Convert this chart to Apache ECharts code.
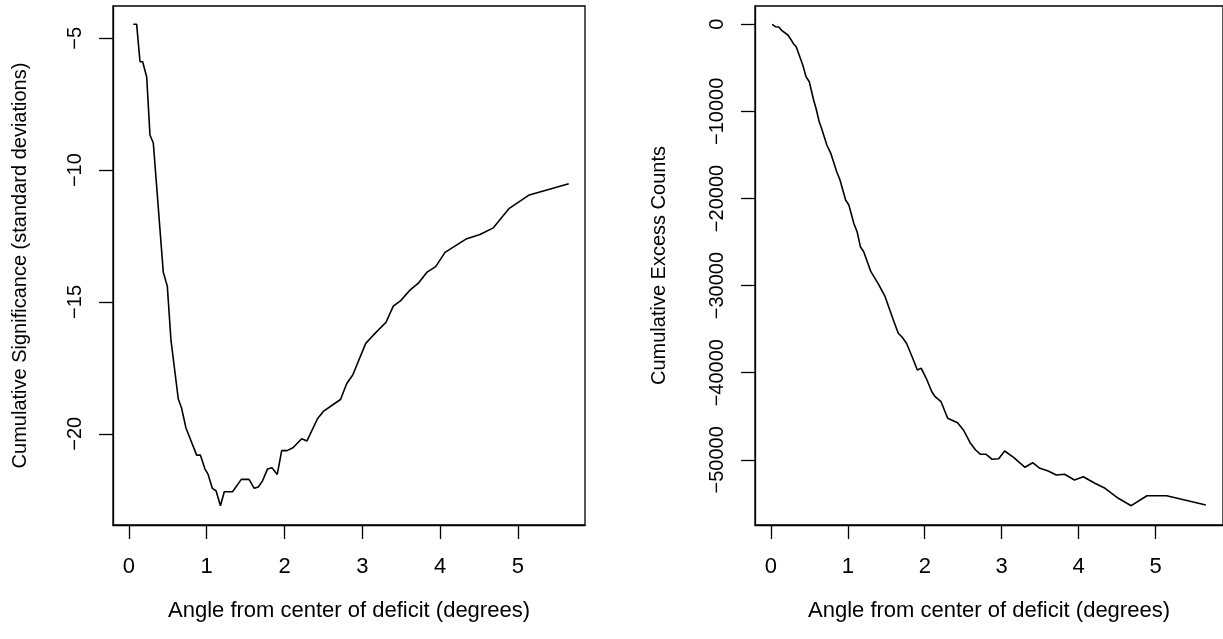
<!DOCTYPE html>
<html>
<head>
<meta charset="utf-8">
<script src="https://cdn.jsdelivr.net/npm/echarts@6/dist/echarts.min.js"></script>
<style>html,body{margin:0;padding:0;background:#fff}#c{width:1223px;height:639px}</style>
</head>
<body>
<div id="c"></div>
<script>
// Left panel: cumulative significance vs angle
const sigAngle = [0.057,0.100,0.143,0.177,0.229,0.271,0.314,0.442,0.494,0.541,0.635,0.676,0.734,0.871,0.920,0.978,1.017,1.072,1.120,1.177,1.226,1.332,1.445,1.544,1.611,1.663,1.717,1.781,1.839,1.907,1.964,2.032,2.109,2.221,2.289,2.424,2.504,2.630,2.720,2.800,2.877,3.044,3.141,3.305,3.398,3.494,3.613,3.720,3.828,3.943,4.063,4.342,4.513,4.684,4.889,5.146,5.653];
const sigValue = [-4.47,-4.47,-5.89,-5.89,-6.47,-8.67,-8.97,-13.87,-14.40,-16.45,-18.68,-19.01,-19.78,-20.81,-20.81,-21.34,-21.53,-22.07,-22.16,-22.73,-22.20,-22.20,-21.73,-21.73,-22.07,-22.02,-21.79,-21.34,-21.29,-21.54,-20.64,-20.64,-20.53,-20.19,-20.27,-19.43,-19.14,-18.88,-18.70,-18.09,-17.77,-16.57,-16.26,-15.77,-15.16,-14.95,-14.55,-14.29,-13.88,-13.66,-13.12,-12.60,-12.44,-12.19,-11.45,-10.94,-10.52];
// Right panel: cumulative excess counts vs angle
const excAngle = [0.017,0.060,0.103,0.145,0.222,0.265,0.299,0.330,0.415,0.458,0.500,0.556,0.587,0.629,0.659,0.728,0.779,0.856,0.899,0.972,1.014,1.078,1.121,1.164,1.207,1.300,1.399,1.485,1.592,1.656,1.707,1.763,1.836,1.904,1.955,2.019,2.092,2.135,2.212,2.298,2.426,2.503,2.589,2.661,2.725,2.798,2.876,2.961,3.038,3.154,3.303,3.402,3.496,3.603,3.710,3.817,3.945,4.060,4.210,4.343,4.515,4.682,4.887,5.144,5.652];
const excValue = [0,-276,-310,-735,-1228,-1802,-2296,-2572,-4673,-6016,-6590,-8691,-9644,-11183,-11940,-13857,-14811,-16923,-17876,-20172,-20746,-22847,-23812,-25534,-26108,-28404,-29836,-31274,-33950,-35476,-35936,-36625,-38163,-39690,-39495,-40643,-42181,-42755,-43329,-45235,-45740,-46579,-48037,-48875,-49369,-49369,-49943,-49874,-48990,-49713,-50861,-50333,-50976,-51286,-51745,-51665,-52319,-51940,-52698,-53272,-54420,-55270,-54122,-54122,-55189];
const xTicks = [0,1,2,3,4,5];
const sigTicks = [-20,-15,-10,-5];
const excTicks = [-50000,-40000,-30000,-20000,-10000,0];
const xTitle = 'Angle from center of deficit (degrees)';
const sigTitle = 'Cumulative Significance (standard deviations)';
const excTitle = 'Cumulative Excess Counts';

const FONT = 'Liberation Sans, Arial, Helvetica, sans-serif';
const FSX = 22;   // horizontal text
const FSY = 20;   // rotated text
const minus = v => String(v).replace('-', '\u2212');
const zip = (a, b) => a.map((x, i) => [x, b[i]]);

function xAxisDef(gi, min, max) {
  return {
    type: 'value', gridIndex: gi, min: min, max: max,
    name: xTitle, nameLocation: 'middle', nameGap: 75,
    nameTextStyle: {fontFamily: FONT, fontSize: FSX, color: '#000'},
    splitLine: {show: false},
    axisLine: {show: true, onZero: false, lineStyle: {color: '#000', width: 1.3}},
    axisTick: {show: true, customValues: xTicks, length: 14, lineStyle: {color: '#000', width: 1.3}},
    axisLabel: {customValues: xTicks, margin: 31, fontFamily: FONT, fontSize: FSX, color: '#000', formatter: v => minus(v)}
  };
}
function yAxisDef(gi, min, max, ticks, title, gap) {
  return {
    type: 'value', gridIndex: gi, min: min, max: max,
    name: title, nameLocation: 'middle', nameGap: gap,
    nameTextStyle: {fontFamily: FONT, fontSize: FSY, color: '#000'},
    splitLine: {show: false},
    axisLine: {show: true, onZero: false, lineStyle: {color: '#000', width: 1.3}},
    axisTick: {show: true, customValues: ticks, length: 14, lineStyle: {color: '#000', width: 1.3}},
    axisLabel: {customValues: ticks, rotate: 90, margin: 28, fontFamily: FONT, fontSize: FSY, color: '#000', formatter: v => minus(v)}
  };
}

const chart = echarts.init(document.getElementById('c'), null, {renderer: 'canvas'});
chart.setOption({
  backgroundColor: '#fff',
  animation: false,
  grid: [
    {left: 113, top: 6, width: 472, height: 519, show: true, borderColor: '#000', borderWidth: 1.3, backgroundColor: 'transparent'},
    {left: 755, top: 6, width: 473.7, height: 519, show: true, borderColor: '#000', borderWidth: 1.3, backgroundColor: 'transparent'}
  ],
  xAxis: [xAxisDef(0, -0.204, 5.862), xAxisDef(1, -0.2054, 5.875)],
  yAxis: [
    yAxisDef(0, -23.46, -3.775, sigTicks, sigTitle, 83),
    yAxisDef(1, -57486, 2101, excTicks, excTitle, 86)
  ],
  series: [
    {type: 'line', xAxisIndex: 0, yAxisIndex: 0, data: zip(sigAngle, sigValue), showSymbol: false, lineStyle: {color: '#000', width: 1.6}},
    {type: 'line', xAxisIndex: 1, yAxisIndex: 1, data: zip(excAngle, excValue), showSymbol: false, lineStyle: {color: '#000', width: 1.6}}
  ]
});
</script>
</body>
</html>
